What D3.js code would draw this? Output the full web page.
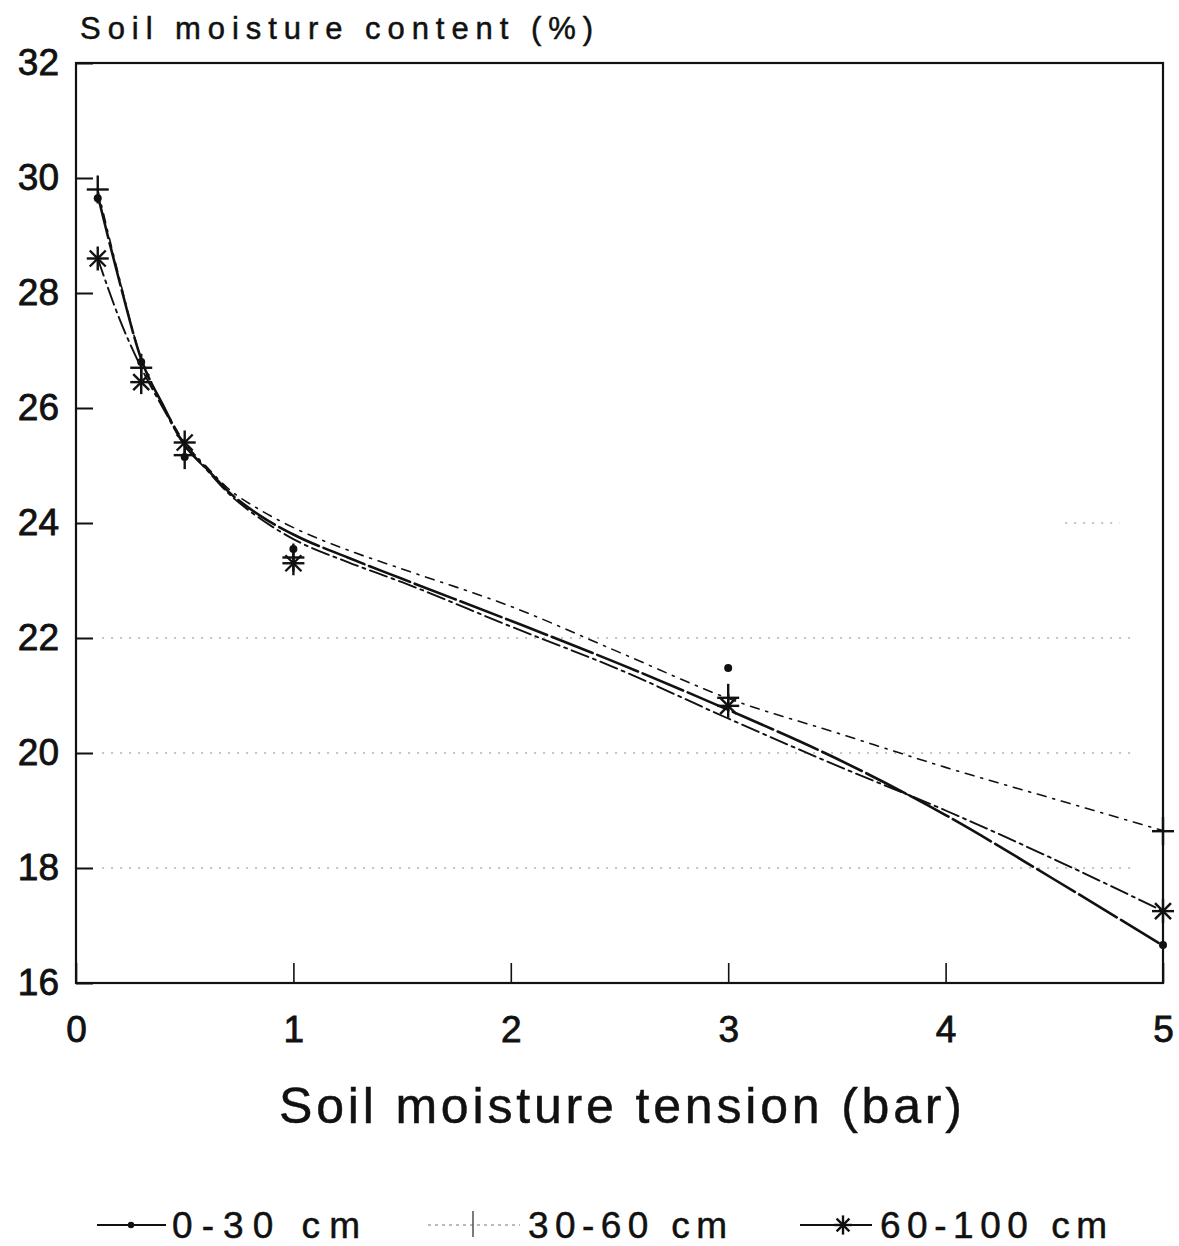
<!DOCTYPE html>
<html>
<head>
<meta charset="utf-8">
<script src="https://cdn.jsdelivr.net/npm/d3@7"></script>
<style>
  html, body { margin: 0; padding: 0; background: #fff; }
  svg { display: block; font-family: "Liberation Sans", Arial, Helvetica, sans-serif; }
</style>
</head>
<body>
<svg id="chart" width="1179" height="1246"></svg>
<script>
// ---- Data ----
const tension = [0.1, 0.3, 0.5, 1, 3, 5];               // observed tensions (bar)
const obs0_30   = [29.65, 26.8, 25.15, 23.55, 21.48, 16.66];
const obs30_60  = [29.8, 26.7, 25.18, 23.4, 20.96, 18.64];
const obs60_100 = [28.6, 26.45, 25.4, 23.3, 20.82, 17.25];

// fitted curves as drawn in the picture (read at these tensions)
const curveX    = [0.1, 0.2, 0.3, 0.4, 0.5, 0.6, 0.7, 0.85, 1, 1.25, 1.5, 2, 2.5, 3, 3.5, 4, 4.5, 5];
const fit0_30   = [29.7, 28.2, 26.85, 26.05, 25.35, 24.95, 24.55, 24.12, 23.8, 23.4, 23.03, 22.3, 21.55, 20.75, 19.9, 18.92, 17.8, 16.65];
const fit30_60  = [29.8, 28.25, 26.85, 26.05, 25.4, 24.98, 24.6, 24.22, 23.92, 23.53, 23.2, 22.55, 21.75, 20.95, 20.35, 19.75, 19.2, 18.65];
const fit60_100 = [28.6, 27.55, 26.7, 26.0, 25.35, 24.93, 24.52, 24.07, 23.72, 23.32, 22.97, 22.2, 21.45, 20.6, 19.78, 19.0, 18.15, 17.25];

const seriesNames = ["0-30 cm", "30-60 cm", "60-100 cm"];
const xTicks = [0, 1, 2, 3, 4, 5];
const yTicks = [16, 18, 20, 22, 24, 26, 28, 30, 32];
const gridVals = [18, 20, 22];

const yTitle = "Soil moisture content (%)";
const xTitle = "Soil moisture tension (bar)";

// ---- Layout ----
const svg = d3.select("#chart");
const x = d3.scaleLinear().domain([0, 5]).range([76, 1163]);
const y = d3.scaleLinear().domain([16, 32]).range([983, 63]);

const series = [
  { name: seriesNames[0], obs: obs0_30,   fit: fit0_30,   marker: "dot",  width: 2.6, dash: "44,5" },
  { name: seriesNames[1], obs: obs30_60,  fit: fit30_60,  marker: "plus", width: 1.6, dash: "9,7,2,7" },
  { name: seriesNames[2], obs: obs60_100, fit: fit60_100, marker: "star", width: 1.9, dash: "18,5,3,5" }
];

// gridlines (sparse dotted)
svg.append("g").selectAll("line").data(gridVals).join("line")
  .attr("x1", x(0.12)).attr("x2", x(4.85))
  .attr("y1", d => y(d)).attr("y2", d => y(d))
  .attr("stroke", "#8a8a8a").attr("stroke-width", 1.2)
  .attr("stroke-dasharray", "2,7");
svg.append("line")
  .attr("x1", x(4.55)).attr("x2", x(4.8))
  .attr("y1", y(24)).attr("y2", y(24))
  .attr("stroke", "#8a8a8a").attr("stroke-width", 1.2)
  .attr("stroke-dasharray", "2,7");

// frame
svg.append("rect")
  .attr("x", x(0)).attr("y", y(32))
  .attr("width", x(5) - x(0)).attr("height", y(16) - y(32))
  .attr("fill", "none").attr("stroke", "#111").attr("stroke-width", 2.2);

// axes
const yAxis = svg.append("g").attr("transform", `translate(${x(0)},0)`)
  .call(d3.axisLeft(y).tickValues(yTicks).tickSize(-17).tickPadding(17).tickFormat(d3.format("d")));
yAxis.select(".domain").remove();
yAxis.selectAll(".tick line").attr("stroke", "#111").attr("stroke-width", 2);
yAxis.selectAll(".tick text").attr("font-size", 37).attr("fill", "#111")
  .attr("font-family", "'Liberation Sans', Arial, sans-serif")
  .attr("stroke", "#111").attr("stroke-width", 0.8);

const xAxis = svg.append("g").attr("transform", `translate(0,${y(16)})`)
  .call(d3.axisBottom(x).tickValues(xTicks).tickSize(-20).tickPadding(33).tickFormat(d3.format("d")));
xAxis.select(".domain").remove();
xAxis.selectAll(".tick line").attr("stroke", "#111").attr("stroke-width", 1.6);
xAxis.selectAll(".tick text").attr("font-size", 37).attr("fill", "#111")
  .attr("font-family", "'Liberation Sans', Arial, sans-serif")
  .attr("stroke", "#111").attr("stroke-width", 0.8);

// titles
svg.append("text").attr("x", 80).attr("y", 39)
  .attr("font-size", 31).attr("fill", "#111")
  .attr("textLength", 513).attr("lengthAdjust", "spacing")
  .attr("stroke", "#111").attr("stroke-width", 0.5)
  .text(yTitle);
svg.append("text").attr("x", 279).attr("y", 1123)
  .attr("font-size", 50).attr("fill", "#111")
  .attr("textLength", 683).attr("lengthAdjust", "spacing")
  .attr("stroke", "#111").attr("stroke-width", 0.5)
  .text(xTitle);

// fitted lines
const line = d3.line().x(d => x(d[0])).y(d => y(d[1])).curve(d3.curveMonotoneX);
series.forEach(s => {
  svg.append("path")
    .datum(curveX.map((t, i) => [t, s.fit[i]]))
    .attr("d", line)
    .attr("fill", "none").attr("stroke", "#111")
    .attr("stroke-width", s.width)
    .attr("stroke-dasharray", s.dash)
    .attr("stroke-linecap", "round");
});

// markers
function drawMarker(g, type, cx, cy, scale) {
  const k = scale || 1;
  if (type === "dot") {
    g.append("circle").attr("cx", cx).attr("cy", cy).attr("r", 4 * k).attr("fill", "#111");
  } else if (type === "plus") {
    g.append("line").attr("x1", cx - 11 * k).attr("x2", cx + 11 * k).attr("y1", cy).attr("y2", cy)
      .attr("stroke", "#111").attr("stroke-width", 2.4);
    g.append("line").attr("x1", cx).attr("x2", cx).attr("y1", cy - 14 * k).attr("y2", cy + 14 * k)
      .attr("stroke", "#111").attr("stroke-width", 2.4);
  } else if (type === "star") {
    const segs = [[-11, 0, 11, 0], [0, -12, 0, 12], [-8, -8, 8, 8], [-8, 8, 8, -8]];
    segs.forEach(sg => {
      g.append("line")
        .attr("x1", cx + sg[0] * k).attr("y1", cy + sg[1] * k)
        .attr("x2", cx + sg[2] * k).attr("y2", cy + sg[3] * k)
        .attr("stroke", "#111").attr("stroke-width", 2.4);
    });
  }
}
const mg = svg.append("g");
series.forEach(s => {
  tension.forEach((t, i) => drawMarker(mg, s.marker, x(t), y(s.obs[i]), 1));
});

// legend
const legendItems = [
  { lx1: 97, lx2: 166, mx: 131, tx: 172, tl: 188, dash: null, width: 2, color: "#111" },
  { lx1: 428, lx2: 520, mx: 473, tx: 528, tl: 199, dash: "3,4", width: 1.2, color: "#777" },
  { lx1: 800, lx2: 872, mx: 843, tx: 880, tl: 227, dash: null, width: 2, color: "#111" }
];
const ly = 1225;
series.forEach((s, i) => {
  const L = legendItems[i];
  const lg = svg.append("g");
  lg.append("line").attr("x1", L.lx1).attr("x2", L.lx2).attr("y1", ly).attr("y2", ly)
    .attr("stroke", L.color).attr("stroke-width", L.width)
    .attr("stroke-dasharray", L.dash);
  if (s.marker === "plus") {
    lg.append("line").attr("x1", L.mx).attr("x2", L.mx).attr("y1", ly - 14).attr("y2", ly + 12)
      .attr("stroke", "#444").attr("stroke-width", 1.4);
  } else {
    drawMarker(lg, s.marker, L.mx, ly, 0.8);
  }
  lg.append("text").attr("x", L.tx).attr("y", ly + 13)
    .attr("font-size", 37).attr("fill", "#111")
    .attr("textLength", L.tl).attr("lengthAdjust", "spacing")
    .attr("stroke", "#111").attr("stroke-width", 0.5)
    .text(s.name);
});
</script>
</body>
</html>
